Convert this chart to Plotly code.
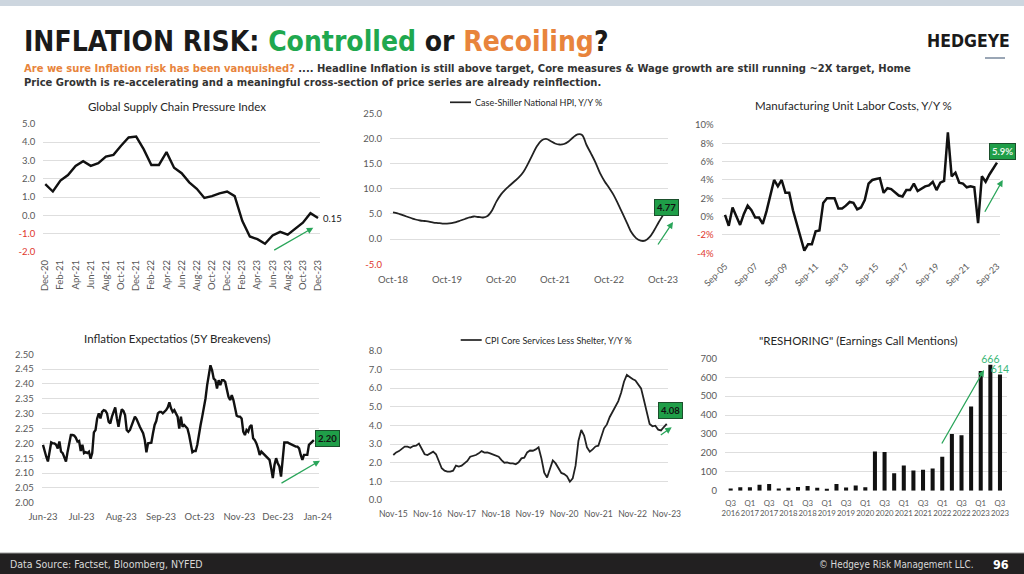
import plotly.graph_objects as go
import pandas as pd

W, H = 1024, 574
def fx(X): return X / W
def fy(Y): return 1 - Y / H

# ---------------- DATA ----------------
gscpi_months = pd.date_range("2020-12-01", periods=37, freq="MS").strftime("%b-%y").tolist()
gscpi = [1.70, 1.30, 1.90, 2.20, 2.70, 2.95, 2.70, 2.85, 3.20, 3.30, 3.80, 4.25, 4.30,
         3.60, 2.75, 2.75, 3.45, 2.60, 2.30, 1.80, 1.45, 0.95, 1.05, 1.20, 1.30,
         1.05, -0.30, -1.15, -1.30, -1.55, -1.10, -0.90, -1.05, -0.70, -0.40, 0.12, -0.15]
gscpi_yticks = [-2, -1, 0, 1, 2, 3, 4, 5]

cs_months = pd.date_range("2018-10-01", periods=61, freq="MS").strftime("%b-%y").tolist()
case_shiller = [5.3, 5.1, 4.8, 4.5, 4.2, 3.9, 3.7, 3.6, 3.5, 3.3, 3.2, 3.1, 3.1, 3.2, 3.4,
                3.7, 4.0, 4.3, 4.5, 4.4, 4.3, 4.6, 5.7, 7.5, 8.9, 9.9, 10.7,
                11.5, 12.3, 13.4, 15.0, 16.8, 18.5, 19.6, 19.9, 19.5, 19.0, 18.8, 18.9,
                19.4, 20.2, 20.8, 20.7, 18.7, 17.0, 15.2, 13.1, 11.5, 10.2, 8.8, 7.0,
                5.1, 3.2, 1.3, 0.2, -0.3, -0.3, 0.4, 1.7, 3.3, 4.77]
cs_yticks = [-5, 0, 5, 10, 15, 20, 25]

ulc_quarters = pd.date_range("2005-09-01", periods=73, freq="3MS").strftime("%b-%y").tolist()
mfg_ulc = [0.2, -1.0, 1.0, 0.1, -0.9, 0.3, 1.2, 0.7, -0.1, -0.1, -0.8, 0.6, 2.2, 4.0, 3.3,
           4.0, 2.6, 2.6, 0.7, -0.8, -2.3, -3.7, -3.0, -3.0, -1.6, -1.5, 1.5, 2.0, 2.0,
           2.0, 0.9, 0.9, 1.2, 1.6, 1.5, 0.8, 1.0, 1.8, 3.6, 4.0, 4.1, 4.2, 2.6, 3.1,
           3.0, 2.6, 2.3, 2.2, 2.9, 2.9, 3.6, 2.8, 3.1, 3.3, 3.4, 3.8, 2.9, 3.7, 3.9,
           9.2, 4.4, 4.8, 3.7, 3.6, 3.2, 3.3, 3.2, -0.7, 4.4, 3.8, 4.6, 5.2, 5.9]
ulc_yticks = [-4, -2, 0, 2, 4, 6, 8, 10]

breakevens = [2.195, 2.172, 2.155, 2.139, 2.172, 2.203, 2.200, 2.200, 2.195, 2.183,
              2.206, 2.172, 2.167, 2.155, 2.139, 2.172, 2.200, 2.228, 2.228, 2.226,
              2.219, 2.206, 2.208, 2.174, 2.195, 2.167, 2.170, 2.167, 2.172, 2.148,
              2.167, 2.237, 2.245, 2.284, 2.301, 2.284, 2.306, 2.312, 2.310, 2.301,
              2.273, 2.267, 2.290, 2.306, 2.321, 2.284, 2.256, 2.290, 2.315, 2.309,
              2.295, 2.245, 2.239, 2.245, 2.262, 2.278, 2.290, 2.282, 2.267, 2.256,
              2.245, 2.234, 2.211, 2.170, 2.200, 2.200, 2.202, 2.234, 2.262, 2.275,
              2.301, 2.306, 2.306, 2.301, 2.306, 2.312, 2.321, 2.338, 2.318, 2.306,
              2.312, 2.301, 2.290, 2.250, 2.290, 2.256, 2.262, 2.256, 2.250, 2.228,
              2.195, 2.170, 2.174, 2.174, 2.195, 2.234, 2.262, 2.290, 2.318, 2.351,
              2.396, 2.430, 2.463, 2.446, 2.418, 2.413, 2.385, 2.413, 2.396, 2.413,
              2.413, 2.407, 2.379, 2.357, 2.346, 2.362, 2.346, 2.312, 2.293, 2.290,
              2.290, 2.284, 2.239, 2.228, 2.245, 2.239, 2.256, 2.262, 2.217, 2.211,
              2.200, 2.183, 2.161, 2.172, 2.167, 2.159, 2.155, 2.150, 2.144, 2.116,
              2.083, 2.127, 2.150, 2.133, 2.122, 2.088, 2.144, 2.203, 2.203, 2.203,
              2.200, 2.197, 2.195, 2.192, 2.189, 2.189, 2.183, 2.161, 2.144, 2.161,
              2.161, 2.161, 2.195, 2.200, 2.206, 2.211]
be_start, be_end = "2023-06-01", "2023-12-29"
be_tickdates = pd.date_range("2023-06-01", "2024-01-01", freq="MS")
be_ticklabels = be_tickdates.strftime("%b-%y").tolist()
be_yticks = [2.00, 2.05, 2.10, 2.15, 2.20, 2.25, 2.30, 2.35, 2.40, 2.45, 2.50]

cpi_months = pd.date_range("2015-11-01", periods=97, freq="MS").strftime("%b-%y").tolist()
cpi_core_svc = [2.41, 2.55, 2.62, 2.73, 2.86, 2.86, 2.80, 2.89, 2.91, 3.02, 2.77, 2.45,
                2.41, 2.50, 2.59, 2.45, 2.11, 1.70, 1.57, 1.52, 1.52, 1.57, 1.84, 1.79,
                1.84, 1.95, 2.09, 2.32, 2.36, 2.41, 2.50, 2.62, 2.54, 2.55, 2.50, 2.45,
                2.41, 2.32, 2.14, 2.00, 2.02, 1.96, 1.96, 1.91, 2.02, 2.23, 2.27, 2.55,
                2.65, 2.64, 2.71, 2.82, 2.23, 1.46, 1.21, 1.70, 2.12, 1.96, 1.68, 1.45,
                1.39, 1.27, 0.98, 1.16, 1.84, 3.16, 3.75, 3.45, 2.82, 2.59, 2.71, 2.87,
                2.91, 3.34, 3.84, 4.05, 4.45, 4.73, 5.04, 5.30, 5.75, 6.34, 6.70, 6.57,
                6.48, 6.41, 6.21, 5.98, 5.36, 4.73, 4.07, 3.95, 3.98, 3.77, 3.73, 3.91, 4.08]
cpi_yticks = [0, 1, 2, 3, 4, 5, 6, 7, 8]

reshoring_q = ["Q%d %d" % (q, y) for y in range(2016, 2024) for q in (1, 2, 3, 4)][2:31]
reshoring = [12, 18, 18, 32, 36, 12, 16, 20, 25, 16, 10, 36, 17, 27, 18, 207, 205, 92,
             133, 107, 111, 117, 180, 300, 293, 445, 633, 666, 614]
reshoring_labels = [""] * 27 + ["666", "614"]
reshoring_yticks = [0, 100, 200, 300, 400, 500, 600, 700]

# ---------------- STYLE ----------------
TICKFONT = dict(family="Lato", size=9.5, color="#595959")
GRID = "#dedede"
GREEN = "#2aa55a"
RED = "#e0362c"

def red_neg(vals, fmt):
    out = []
    for v in vals:
        s = fmt.format(v)
        out.append('<span style="color:%s">%s</span>' % (RED, s) if v < 0 else s)
    return out

fig = go.Figure()

fig.add_trace(go.Scatter(x=gscpi_months, y=gscpi, mode="lines", xaxis="x", yaxis="y",
                         line=dict(color="#111111", width=2.4), showlegend=False))
fig.add_trace(go.Scatter(x=cs_months, y=case_shiller, mode="lines", xaxis="x2", yaxis="y2",
                         line=dict(color="#222222", width=1.8, shape="spline"), showlegend=False))
fig.add_trace(go.Scatter(x=ulc_quarters, y=mfg_ulc, mode="lines", xaxis="x3", yaxis="y3",
                         line=dict(color="#111111", width=2.5), showlegend=False))
fig.add_trace(go.Scatter(x=pd.date_range(be_start, be_end, periods=len(breakevens)), y=breakevens,
                         mode="lines", xaxis="x4", yaxis="y4",
                         line=dict(color="#111111", width=2.4), showlegend=False))
fig.add_trace(go.Scatter(x=cpi_months, y=cpi_core_svc, mode="lines", xaxis="x5", yaxis="y5",
                         line=dict(color="#222222", width=1.8), showlegend=False))
fig.add_trace(go.Bar(x=reshoring_q, y=reshoring, xaxis="x6", yaxis="y6", width=0.42,
                     marker=dict(color="#111111", line=dict(width=0)), text=reshoring_labels,
                     textposition="outside", cliponaxis=False, constraintext="none",
                     textfont=dict(family="Lato", size=10.5, color="#3cb878"), showlegend=False))

def xax(d, rng, standoff=6, **kw):
    base = dict(domain=[fx(d[0]), fx(d[1])], range=rng, showgrid=False, zeroline=False,
                showline=False, ticks="", tickfont=TICKFONT, fixedrange=True,
                automargin=False, ticklabelstandoff=standoff)
    base.update(kw)
    return base

def yax(d, rng, vals, text, **kw):
    base = dict(domain=[fy(d[1]), fy(d[0])], range=rng, showgrid=True, gridcolor=GRID,
                gridwidth=1, zeroline=False, showline=False, ticks="", tickfont=TICKFONT,
                tickmode="array", tickvals=vals, ticktext=text, ticklabelstandoff=7,
                fixedrange=True, automargin=False)
    base.update(kw)
    return base

layout = dict(
    template="none",
    width=W, height=H, autosize=False, margin=dict(l=0, r=0, t=0, b=0, pad=0),
    paper_bgcolor="white", plot_bgcolor="white", bargap=0.5, showlegend=False,
    font=dict(family="Lato", color="#333"),
    xaxis=xax((43.3, 320), [-0.26, 36.26], standoff=5, type="category", anchor="y", tickangle=-90,
              tickmode="array", tickvals=gscpi_months[::2], ticktext=gscpi_months[::2]),
    yaxis=yax((123.7, 252), [-2, 5], gscpi_yticks, red_neg(gscpi_yticks, "{:.1f}"), anchor="x"),
    xaxis2=xax((390, 668), [-0.67, 61.1], standoff=8, type="category", anchor="y2", tickangle=0,
               tickmode="array", tickvals=cs_months[::12], ticktext=cs_months[::12]),
    yaxis2=yax((113.3, 264.3), [-5, 25], cs_yticks, red_neg(cs_yticks, "{:.1f}"), anchor="x2"),
    xaxis3=xax((721.7, 1000), [-0.87, 72.8], standoff=5, type="category", anchor="y3", tickangle=-45,
               tickmode="array", tickvals=ulc_quarters[::8], ticktext=ulc_quarters[::8],
               tickfont=dict(family="Lato", size=9, color="#595959")),
    yaxis3=yax((125, 253.3), [-4, 10], ulc_yticks, red_neg(ulc_yticks, "{:.0f}%"), anchor="x3"),
    xaxis4=xax((41.7, 319), ["2023-05-31", "2024-01-02"], standoff=7, type="date", anchor="y4",
               tickangle=0, tickmode="array", tickvals=be_tickdates, ticktext=be_ticklabels),
    yaxis4=yax((354.3, 502.7), [2.0, 2.5], be_yticks, ["%.2f" % v for v in be_yticks], anchor="x4"),
    xaxis5=xax((390, 668.3), [-1.16, 96.56], standoff=7, type="category", anchor="y5", tickangle=0,
               tickmode="array", tickvals=cpi_months[::12], ticktext=cpi_months[::12],
               tickfont=dict(family="Lato", size=8.6, color="#595959")),
    yaxis5=yax((350.7, 500), [0, 8], cpi_yticks, red_neg(cpi_yticks, "{:.1f}"), anchor="x5"),
    xaxis6=xax((725, 1006.7), [-0.59, 28.7], standoff=6, type="category", anchor="y6", tickangle=0,
               tickmode="array", tickvals=reshoring_q[::2],
               ticktext=[q.replace(" ", "<br>") for q in reshoring_q[::2]],
               tickfont=dict(family="Lato", size=7.8, color="#595959")),
    yaxis6=yax((358.3, 490.7), [0, 700], reshoring_yticks, [str(v) for v in reshoring_yticks],
               anchor="x6"),
)

shapes = [
    dict(type="rect", xref="paper", yref="paper", x0=0, x1=1, y0=fy(6), y1=1,
         fillcolor="#cdd6df", line=dict(width=0), layer="below"),
    dict(type="rect", xref="paper", yref="paper", x0=0, x1=1, y0=0, y1=fy(553),
         fillcolor="#222021", line=dict(width=0)),
    dict(type="line", xref="paper", yref="paper", x0=0, x1=1, y0=fy(553), y1=fy(553),
         line=dict(color="#9a9a9a", width=1)),
    dict(type="line", xref="paper", yref="paper", x0=fx(985), x1=fx(1005), y0=fy(58), y1=fy(58),
         line=dict(color="#9aa6b5", width=2)),
    # legend swatches
    dict(type="line", xref="paper", yref="paper", x0=fx(450), x1=fx(471), y0=fy(102.3), y1=fy(102.3),
         line=dict(color="#222", width=1.7)),
    dict(type="line", xref="paper", yref="paper", x0=fx(460.7), x1=fx(481.7), y0=fy(340), y1=fy(340),
         line=dict(color="#222", width=1.7)),
]

def txt(X, Y, s, size=10, color="#222", family="Lato", xanchor="center", **kw):
    d = dict(x=fx(X), y=fy(Y), xref="paper", yref="paper", text=s, showarrow=False,
             xanchor=xanchor, yanchor="middle",
             font=dict(family=family, size=size, color=color))
    d.update(kw)
    return d

def box(X, Y, s, fc="#111"):
    return dict(x=fx(X), y=fy(Y), xref="paper", yref="paper", text="<b>%s</b>" % s,
                showarrow=False, xanchor="center", yanchor="middle",
                font=dict(family="Lato", size=9.5, color=fc), bgcolor="#1f9e48",
                bordercolor="#1b4f2c", borderwidth=1, borderpad=2)

def arrow(tx, ty, hx, hy):
    return dict(x=fx(hx), y=fy(hy), xref="paper", yref="paper", ax=tx - hx, ay=ty - hy,
                axref="pixel", ayref="pixel", text="", showarrow=True, arrowhead=2,
                arrowsize=1, arrowwidth=1.3, arrowcolor=GREEN, standoff=0)

annotations = [
    txt(22, 42, '<b>INFLATION RISK: <span style="color:#1fa84f">Controlled</span> or '
                '<span style="color:#e8843c">Recoiling</span>?</b>',
        size=28, color="#1a1a1a", family="DejaVu Sans Condensed", xanchor="left"),
    txt(1012, 41, "<b>HEDGEYE</b>", size=17.5, color="#1a1a1a", family="DejaVu Sans Condensed",
        xanchor="right"),
    txt(22, 75, '<b><span style="color:#e8843c">Are we sure Inflation risk has been vanquished?</span>'
                ' .... Headline Inflation is still above target, Core measures &amp; Wage growth are '
                'still running ~2X target, Home<br>Price Growth is re-accelerating and a meaningful '
                'cross-section of price series are already reinflection.</b>',
        size=11.1, color="#333", family="DejaVu Sans Condensed", xanchor="left", align="left"),
    txt(8, 564, "Data Source: Factset, Bloomberg, NYFED", size=10.5, color="#d8d8d8",
        family="DejaVu Sans Condensed", xanchor="left"),
    txt(975, 564, "© Hedgeye Risk Management LLC.", size=9.8, color="#d8d8d8",
        family="DejaVu Sans Condensed", xanchor="right"),
    txt(1011, 564, "<b>96</b>", size=12.5, color="#ffffff", family="DejaVu Sans Condensed",
        xanchor="right"),
    # chart titles
    txt(177, 106, "Global Supply Chain Pressure Index", size=11.5, color="#262626"),
    txt(853, 105.7, "Manufacturing Unit Labor Costs, Y/Y %", size=11.5, color="#262626"),
    txt(176.7, 338.3, "Inflation Expectatios (5Y Breakevens)", size=11.5, color="#262626"),
    txt(858, 340, '"RESHORING" (Earnings Call Mentions)', size=11.5, color="#262626"),
    txt(473, 102.3, "Case-Shiller National HPI, Y/Y %", size=9, color="#262626", xanchor="left"),
    txt(483, 340, "CPI Core Services Less Shelter, Y/Y %", size=9, color="#262626", xanchor="left"),
    # labels
    txt(321, 219, "0.15", size=9.5, color="#222", xanchor="left"),
    box(666.7, 207.7, "4.77"),
    box(1002.5, 151.3, "5.9%", fc="#e8f5e9"),
    box(327.7, 438.3, "2.20"),
    box(670.8, 410.5, "4.08"),
    # arrows
    arrow(272.7, 251, 313.3, 227.7),
    arrow(657, 246, 673, 222),
    arrow(984, 213.3, 1002.7, 180),
    arrow(280, 484, 320, 460.7),
    arrow(659.3, 436, 671.7, 427.3),
    arrow(941, 445, 984, 370),
]

layout["shapes"] = shapes
layout["annotations"] = annotations
fig.update_layout(**layout)
fig.write_html("out.html", config={"displayModeBar": False},
               post_script="document.body.style.margin='0px';document.body.style.padding='0px';")
